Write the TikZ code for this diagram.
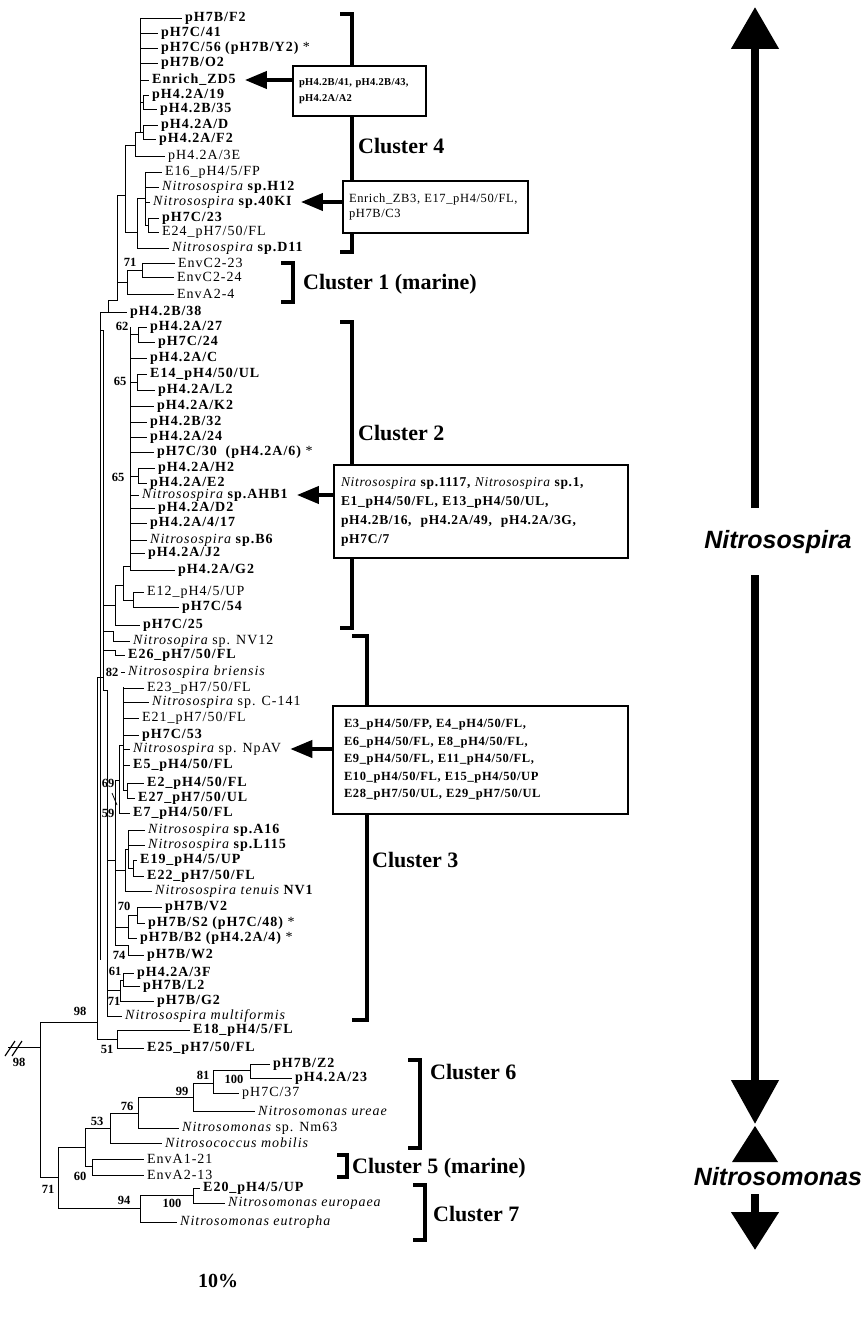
\documentclass[tikz,border=0pt]{standalone}
\usepackage{fontspec}
\setmainfont{Liberation Serif}
\newfontfamily\labfont[LetterSpace=7]{Liberation Serif}
\newfontfamily\boxfont[LetterSpace=5]{Liberation Serif}
\newfontfamily\smallboxfont[LetterSpace=3]{Liberation Serif}
\newfontfamily\bigfont{Liberation Sans}
\usetikzlibrary{arrows.meta}

\tikzset{
  branch/.style={line width=0.9pt},
  leaf/.style={anchor=west, inner xsep=3pt, inner ysep=0pt,
    font=\labfont\bfseries\fontsize{14}{14}\selectfont},
  leafr/.style={leaf, font=\labfont\fontsize{14}{14}\selectfont},
  boot/.style={inner sep=0pt, font=\bfseries\fontsize{12.5}{12.5}\selectfont},
  bracket/.style={line width=4pt},
  clname/.style={anchor=west, inner sep=0pt, font=\bfseries\fontsize{22}{22}\selectfont},
  infobox/.style={draw, line width=2pt, fill=white, anchor=north west, align=left,
    inner ysep=4pt},
  pointer/.style={line width=4pt, -{Triangle[length=22pt,width=17pt]}, shorten >=6pt},
  bigshaft/.style={line width=8pt},
  bigname/.style={inner sep=0pt, font=\bigfont\bfseries\itshape\fontsize{25}{25}\selectfont},
}

% genus names in italics
\newcommand{\gen}[1]{{\mdseries\itshape #1}}
% leaf: [style]{name}{text x}{parent x}{y}{label}
\newcommand{\leaf}[6][leaf]{%
  \node[#1] (#2) at (#3-3,#5) {#6};
  \draw[branch] (#4,#5) -- (#2.west);}
% bootstrap value
\newcommand{\bval}[4]{\node[boot] (#1) at (#2,#3) {#4};}

\begin{document}
\begin{tikzpicture}[x=1pt,y=-1pt]
\useasboundingbox (0,0) rectangle (864,1321);

% Cluster 4
\leaf{f2}{185}{140}{18}{pH7B/F2}
\leaf{c41}{161}{140}{33}{pH7C/41}
\leaf{c56}{161}{140}{48}{pH7C/56 (pH7B/Y2) {\mdseries *}}
\leaf{o2}{161}{140}{63}{pH7B/O2}
\leaf{zd5}{152}{140}{80}{Enrich\_ZD5}
\leaf{a19}{152}{143}{95}{pH4.2A/19}
\leaf{b35}{160}{143}{109}{pH4.2B/35}
\leaf{ad}{161}{143}{125}{pH4.2A/D}
\leaf{af2}{159}{143}{139}{pH4.2A/F2}
\leaf[leafr]{a3e}{168}{135}{156}{pH4.2A/3E}
\leaf[leafr]{e16}{165}{145}{172}{E16\_pH4/5/FP}
\leaf{h12}{162}{145}{187}{\gen{Nitrosospira} sp.H12}
\leaf{k40}{153}{145}{202}{\gen{Nitrosospira} sp.40KI}
\leaf{c23}{162}{148}{218}{pH7C/23}
\leaf[leafr]{e24}{162}{148}{232}{E24\_pH7/50/FL}
\leaf{d11}{172}{137}{248}{\gen{Nitrosospira} sp.D11}
\draw[branch] (140,18) -- (140,132);
\draw[branch] (140,102) -- (143,102) (143,95) -- (143,109);
\draw[branch] (135,132) -- (143,132) (143,125) -- (143,139);
\draw[branch] (135,132) -- (135,156);
\draw[branch] (125,145) -- (135,145) (125,145) -- (125,232) -- (137,232);
\draw[branch] (137,198) -- (137,248) (137,198) -- (145,198);
\draw[branch] (145,172) -- (145,225) -- (148,225) (148,218) -- (148,232);

% Cluster 1
\leaf[leafr]{c223}{178}{142}{263}{EnvC2-23}
\leaf[leafr]{c224}{177}{142}{277}{EnvC2-24}
\leaf[leafr]{a24}{177}{127}{294}{EnvA2-4}
\draw[branch] (142,263) -- (142,277) (127,270) -- (142,270) (127,270) -- (127,294);
\draw[branch] (125,195) -- (117,195) -- (117,300) -- (108,300) -- (108,312);
\draw[branch] (117,282) -- (127,282);
\bval{b71a}{130}{262}{71}
\leaf{b38}{130}{100}{312}{pH4.2B/38}

% Cluster 2
\leaf{a27}{150}{138}{327}{pH4.2A/27}
\leaf{c24}{158}{138}{342}{pH7C/24}
\leaf{ac}{150}{130}{358}{pH4.2A/C}
\leaf{e14}{150}{137}{374}{E14\_pH4/50/UL}
\leaf{al2}{158}{137}{390}{pH4.2A/L2}
\leaf{ak2}{157}{130}{406}{pH4.2A/K2}
\leaf{b32}{150}{130}{422}{pH4.2B/32}
\leaf{a24x}{150}{130}{437}{pH4.2A/24}
\leaf{c30}{157}{130}{452}{pH7C/30~ (pH4.2A/6) {\mdseries *}}
\leaf{ah2}{158}{138}{468}{pH4.2A/H2}
\leaf{ae2}{150}{138}{483}{pH4.2A/E2}
\leaf{ahb}{142}{130}{495}{\gen{Nitrosospira} sp.AHB1}
\leaf{ad2}{158}{130}{508}{pH4.2A/D2}
\leaf{a417}{150}{130}{523}{pH4.2A/4/17}
\leaf{b6}{150}{130}{540}{\gen{Nitrosospira} sp.B6}
\leaf{aj2}{148}{130}{553}{pH4.2A/J2}
\leaf{ag2}{178}{130}{570}{pH4.2A/G2}
\leaf[leafr]{e12}{147}{133}{592}{E12\_pH4/5/UP}
\leaf{c54}{182}{133}{607}{pH7C/54}
\leaf{c25}{143}{115}{625}{pH7C/25}
\draw[branch] (130,327) -- (130,570);
\draw[branch] (130,334) -- (138,334) (138,327) -- (138,342);
\draw[branch] (130,382) -- (137,382) (137,374) -- (137,390);
\draw[branch] (130,476) -- (138,476) (138,468) -- (138,483);
\draw[branch] (130,566) -- (123,566) -- (123,600) -- (133,600) (133,592) -- (133,607);
\draw[branch] (123,585) -- (115,585) -- (115,625) (103,605) -- (115,605);
\bval{b62}{122}{326}{62}
\bval{b65a}{120}{381}{65}
\bval{b65b}{118}{477}{65}

\leaf[leafr]{nv12}{133}{113}{641}{\gen{Nitrosopira} sp. NV12}
\leaf{e26}{128}{115}{655}{E26\_pH7/50/FL}
\leaf{bri}{128}{121}{672}{\gen{Nitrosospira briensis}}
\draw[branch] (103,631) -- (113,631) -- (113,641);
\draw[branch] (103,650) -- (115,650) -- (115,655);
\bval{b82}{112}{672}{82}

% backbone
\draw[branch] (100,312) -- (100,960);
\draw[branch] (100,330) -- (103,330) -- (103,690) -- (107,690) -- (107,1016);
\draw[branch] (97,677) -- (103,677) (97,677) -- (97,1039);

% Cluster 3
\leaf[leafr]{e23}{147}{123}{688}{E23\_pH7/50/FL}
\leaf[leafr]{c141}{152}{123}{702}{\gen{Nitrosospira} sp. C-141}
\leaf[leafr]{e21}{142}{123}{718}{E21\_pH7/50/FL}
\leaf{c53}{142}{123}{735}{pH7C/53}
\leaf[leafr]{npav}{133}{123}{749}{\gen{Nitrosospira} sp. NpAV}
\leaf{e5}{133}{123}{765}{E5\_pH4/50/FL}
\leaf{e2}{147}{127}{783}{E2\_pH4/50/FL}
\leaf{e27}{138}{127}{798}{E27\_pH7/50/UL}
\leaf{e7}{133}{119}{813}{E7\_pH4/50/FL}
\leaf{a16}{148}{128}{830}{\gen{Nitrosospira} sp.A16}
\leaf{l115}{148}{128}{845}{\gen{Nitrosospira} sp.L115}
\leaf{e19}{140}{133}{860}{E19\_pH4/5/UP}
\leaf{e22}{147}{133}{876}{E22\_pH7/50/FL}
\leaf{nv1}{155}{125}{891}{\gen{Nitrosospira tenuis} NV1}
\leaf{v2}{165}{137}{907}{pH7B/V2}
\leaf{s2}{148}{137}{923}{pH7B/S2 (pH7C/48) {\mdseries *}}
\leaf{b2}{140}{128}{938}{pH7B/B2 (pH4.2A/4) {\mdseries *}}
\leaf{w2}{147}{128}{955}{pH7B/W2}
\leaf{a3f}{137}{123}{973}{pH4.2A/3F}
\leaf{l2}{143}{123}{986}{pH7B/L2}
\leaf{g2}{157}{120}{1001}{pH7B/G2}
\leaf{mul}{125}{107}{1016}{\gen{Nitrosospira multiformis}}
\leaf{e18}{193}{117}{1030}{E18\_pH4/5/FL}
\leaf{e25}{147}{117}{1048}{E25\_pH7/50/FL}
\draw[branch] (123,687) -- (123,790) -- (127,790) (127,783) -- (127,798);
\draw[branch] (119,745) -- (123,745) (119,745) -- (119,813);
\draw[branch] (115,780) -- (119,780) (115,780) -- (115,945) -- (128,945) -- (128,955);
\draw[branch] (107,860) -- (115,860);
\draw[branch] (128,830) -- (128,868) -- (133,868) (133,860) -- (133,876);
\draw[branch] (125,849) -- (128,849) (125,849) -- (125,891) (115,870) -- (125,870);
\draw[branch] (137,907) -- (137,923) (128,915) -- (137,915) (128,915) -- (128,938) (115,927) -- (128,927);
\draw[branch] (123,973) -- (123,986) (120,980) -- (123,980) (120,980) -- (120,1001) (107,990) -- (120,990);
\draw[branch] (97,1039) -- (117,1039) (117,1030) -- (117,1048);
\draw[line width=0.8pt] (112,793) -- (117,805);
\bval{b69}{108}{783}{69}
\bval{b59}{108}{813}{59}
\bval{b70}{124}{906}{70}
\bval{b74}{119}{955}{74}
\bval{b61}{115}{971}{61}
\bval{b71b}{114}{1001}{71}
\bval{b51}{107}{1049}{51}

% root
\draw[branch] (40,1022) -- (97,1022) (40,1022) -- (40,1177) -- (58,1177);
\draw[branch] (8,1047) -- (40,1047);
\draw[line width=1.2pt] (5,1056) -- (15,1041) (12,1056) -- (22,1041);
\bval{b98a}{80}{1011}{98}
\bval{b98b}{19}{1062}{98}

% Nitrosomonas
\leaf{z2}{273}{250}{1064}{pH7B/Z2}
\leaf{a23}{295}{250}{1078}{pH4.2A/23}
\leaf[leafr]{c37}{242}{213}{1093}{pH7C/37}
\leaf{ure}{258}{193}{1111}{\gen{Nitrosomonas ureae}}
\leaf[leafr]{nm63}{182}{138}{1128}{\gen{Nitrosomonas} sp. Nm63}
\leaf{mob}{165}{110}{1143}{\gen{Nitrosococcus mobilis}}
\leaf[leafr]{a121}{147}{92}{1159}{EnvA1-21}
\leaf[leafr]{a213}{147}{92}{1175}{EnvA2-13}
\leaf{e20}{203}{193}{1188}{E20\_pH4/5/UP}
\leaf{eur}{228}{193}{1203}{\gen{Nitrosomonas europaea}}
\leaf{eut}{180}{140}{1222}{\gen{Nitrosomonas eutropha}}
\draw[branch] (58,1147) -- (58,1208) -- (140,1208);
\draw[branch] (58,1147) -- (85,1147) (85,1128) -- (85,1166) -- (92,1166) (92,1159) -- (92,1175);
\draw[branch] (85,1128) -- (110,1128) (110,1113) -- (110,1143);
\draw[branch] (110,1113) -- (138,1113) (138,1097) -- (138,1128);
\draw[branch] (138,1097) -- (193,1097) (193,1083) -- (193,1111);
\draw[branch] (193,1083) -- (213,1083) (213,1070) -- (213,1093);
\draw[branch] (213,1070) -- (250,1070) (250,1064) -- (250,1078);
\draw[branch] (140,1195) -- (140,1222) (140,1195) -- (193,1195) (193,1188) -- (193,1203);
\bval{b81}{203}{1075}{81}
\bval{b100a}{234}{1079}{100}
\bval{b99}{182}{1091}{99}
\bval{b76}{127}{1106}{76}
\bval{b53}{97}{1121}{53}
\bval{b60}{80}{1176}{60}
\bval{b71c}{48}{1189}{71}
\bval{b94}{124}{1200}{94}
\bval{b100b}{172}{1203}{100}

% cluster brackets
\draw[bracket] (340,14) -- (352,14) -- (352,252) -- (340,252);
\draw[bracket] (281,263) -- (293,263) -- (293,302) -- (281,302);
\draw[bracket] (340,322) -- (352,322) -- (352,628) -- (340,628);
\draw[bracket] (352,636) -- (367,636) -- (367,1020) -- (352,1020);
\draw[bracket] (408,1060) -- (420,1060) -- (420,1148) -- (408,1148);
\draw[bracket] (337,1155) -- (347,1155) -- (347,1177) -- (337,1177);
\draw[bracket] (413,1185) -- (425,1185) -- (425,1240) -- (413,1240);
\node[clname] (cl4) at (358,146) {Cluster 4};
\node[clname] (cl1) at (303,284) {Cluster 1 (marine)};
\node[clname] (cl2) at (358,433) {Cluster 2};
\node[clname] (cl3) at (372,860) {Cluster 3};
\node[clname] (cl6) at (430,1072) {Cluster 6};
\node[clname] (cl5) at (352,1168) {Cluster 5 (marine)};
\node[clname] (cl7) at (433,1214) {Cluster 7};

% boxes of further sequences
\node[infobox, inner xsep=6pt, text width=121pt, minimum height=50pt,
  font=\smallboxfont\bfseries\fontsize{10.5}{15.5}\selectfont] (box1) at (292,65)
  {pH4.2B/41, pH4.2B/43,\\ pH4.2A/A2};
\node[infobox, inner xsep=6pt, text width=173pt, minimum height=52pt,
  font=\boxfont\fontsize{12.5}{15.5}\selectfont] (box2) at (342,180)
  {Enrich\_ZB3, E17\_pH4/50/FL,\\ pH7B/C3};
\node[infobox, inner xsep=7pt, text width=280pt, minimum height=93pt,
  font=\boxfont\bfseries\fontsize{13.5}{19}\selectfont] (box3) at (333,464)
  {\gen{Nitrosospira} sp.1117, \gen{Nitrosospira} sp.1,\\
   E1\_pH4/50/FL, E13\_pH4/50/UL,\\
   pH4.2B/16,~ pH4.2A/49,~ pH4.2A/3G,\\
   pH7C/7};
\node[infobox, inner xsep=11pt, text width=273pt, minimum height=108pt,
  font=\boxfont\bfseries\fontsize{12.5}{17.5}\selectfont] (box4) at (332,705)
  {E3\_pH4/50/FP, E4\_pH4/50/FL,\\
   E6\_pH4/50/FL, E8\_pH4/50/FL,\\
   E9\_pH4/50/FL, E11\_pH4/50/FL,\\
   E10\_pH4/50/FL, E15\_pH4/50/UP\\
   E28\_pH7/50/UL, E29\_pH7/50/UL};
\draw[pointer] (box1.west |- zd5.east) -- (zd5.east);
\draw[pointer] (box2.west |- k40.east) -- (k40.east);
\draw[pointer] (box3.west |- ahb.east) -- (ahb.east);
\draw[pointer] (box4.west |- npav.east) -- (npav.east);

% genus arrows
\coordinate (uptip) at (755,7);
\coordinate (upbase) at (755,508);
\draw[bigshaft, -{Triangle[length=42pt,width=46pt]}] (upbase) -- (uptip);
\node[bigname] (spira) at (778,542) {Nitrosospira};
\coordinate (dnbase) at (755,575);
\coordinate (dntip) at (755,1124);
\draw[bigshaft, -{Triangle[length=44pt,width=46pt]}] (dnbase) -- (dntip);
\fill (732,1162) -- (755,1126) -- (778,1162) -- cycle;
\node[bigname] (monas) at (778,1177) {Nitrosomonas};
\coordinate (lowbase) at (755,1194);
\coordinate (lowtip) at (755,1250);
\draw[bigshaft, -{Triangle[length=38pt,width=46pt]}] (lowbase) -- (lowtip);

\node[font=\bfseries\fontsize{20}{20}\selectfont] (scale) at (218,1281) {10\%};
\end{tikzpicture}
\end{document}
